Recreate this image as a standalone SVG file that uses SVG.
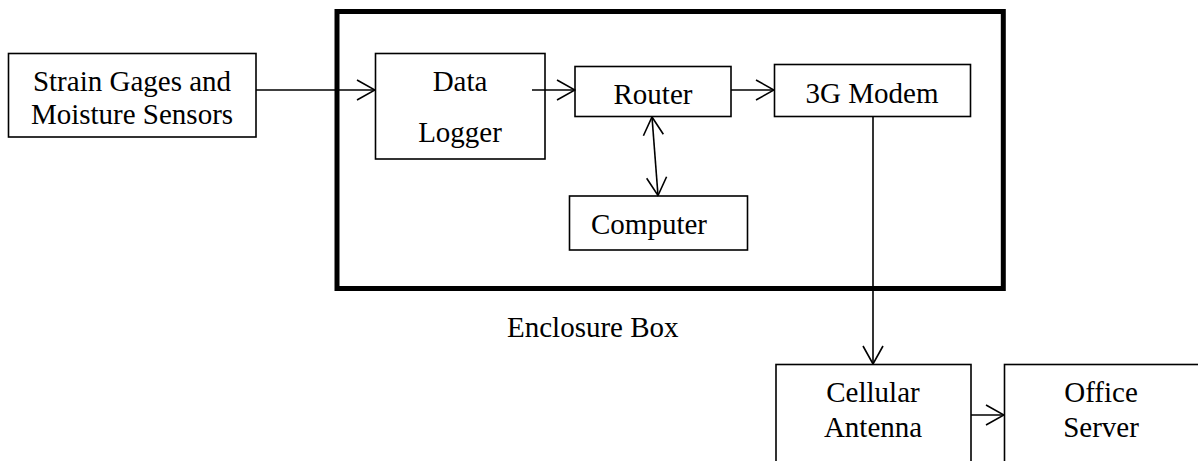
<svg xmlns="http://www.w3.org/2000/svg" width="1198" height="461" viewBox="0 0 1198 461">
<defs>
<style>
.box{fill:#fff;stroke:#000;stroke-width:1.6}
.encl{fill:none;stroke:#000;stroke-width:5}
.t{font-family:"Liberation Serif","Times New Roman",serif;font-size:29px;fill:#000}
.c{text-anchor:middle}
.ln{fill:none;stroke:#000;stroke-width:1.6}
</style>
<marker id="ah" viewBox="0 0 20 22" refX="19" refY="11" markerWidth="20" markerHeight="22" markerUnits="userSpaceOnUse" orient="auto-start-reverse">
<path d="M1,1 L19,11 L1,21" fill="none" stroke="#000" stroke-width="1.6"/>
</marker>
</defs>
<rect width="1198" height="461" fill="#fff"/>
<g id="enclosure">
<rect class="encl" x="337" y="11.5" width="666.3" height="277"/>
<text class="t" x="507" y="337">Enclosure Box</text>
</g>
<g id="sensors">
<rect class="box" x="8.5" y="53.5" width="247.5" height="83.5"/>
<text class="t c" x="132" y="91">Strain Gages and</text>
<text class="t c" x="132" y="124">Moisture Sensors</text>
</g>
<g id="logger">
<rect class="box" x="375.5" y="53.5" width="169.5" height="105.5"/>
<text class="t c" x="460" y="91">Data</text>
<text class="t c" x="460" y="142">Logger</text>
</g>
<g id="router">
<rect class="box" x="575" y="66.5" width="156" height="50"/>
<text class="t c" x="653" y="104">Router</text>
</g>
<g id="modem">
<rect class="box" x="774.5" y="64.5" width="196" height="52"/>
<text class="t c" x="872" y="103">3G Modem</text>
</g>
<g id="computer">
<rect class="box" x="569.5" y="196" width="178" height="54"/>
<text class="t" x="591" y="234">Computer</text>
</g>
<g id="antenna">
<rect class="box" x="776" y="364.5" width="195" height="110"/>
<text class="t c" x="873" y="402">Cellular</text>
<text class="t c" x="873" y="437">Antenna</text>
</g>
<g id="server">
<rect class="box" x="1004.5" y="364.5" width="195" height="110"/>
<text class="t c" x="1101" y="402">Office</text>
<text class="t c" x="1101" y="437">Server</text>
</g>
<g id="connectors">
<line class="ln" x1="256" y1="90" x2="375" y2="90" marker-end="url(#ah)"/>
<line class="ln" x1="532" y1="90" x2="575" y2="90" marker-end="url(#ah)"/>
<line class="ln" x1="731" y1="90" x2="774" y2="90" marker-end="url(#ah)"/>
<line class="ln" x1="652" y1="117" x2="658" y2="195.5" marker-start="url(#ah)" marker-end="url(#ah)"/>
<line class="ln" x1="873" y1="116.5" x2="873" y2="364" marker-end="url(#ah)"/>
<line class="ln" x1="971" y1="415" x2="1004" y2="415" marker-end="url(#ah)"/>
</g>
</svg>
